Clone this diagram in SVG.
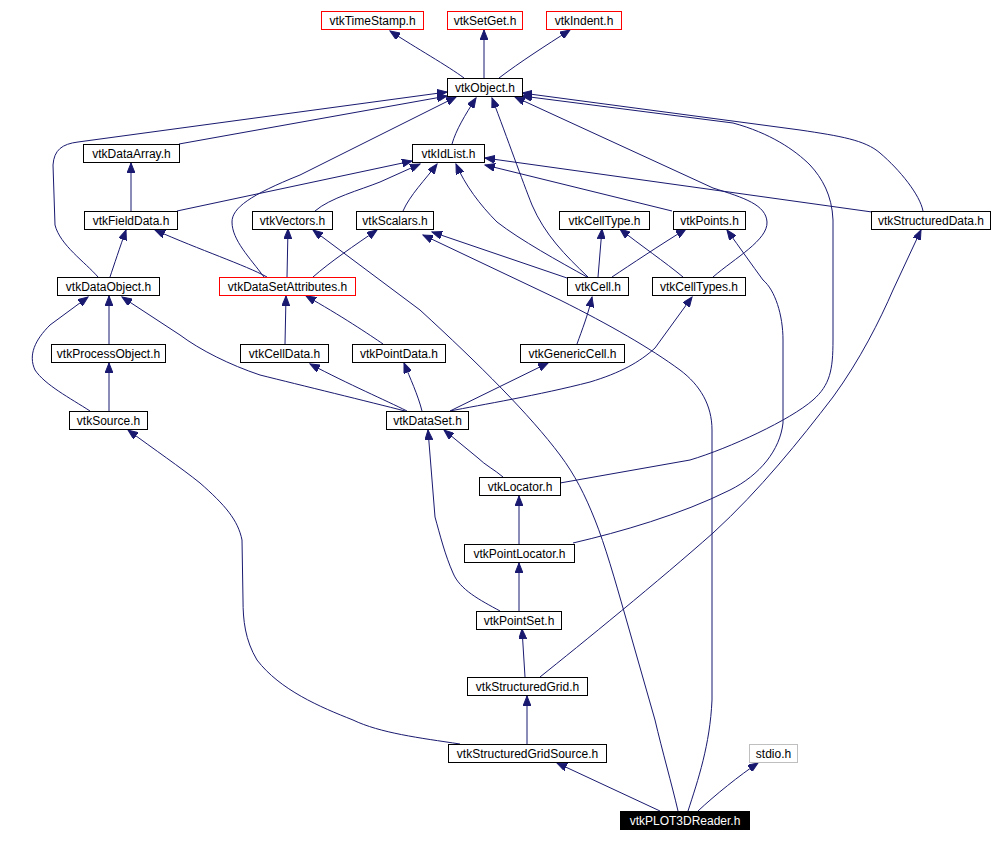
<svg xmlns="http://www.w3.org/2000/svg" width="993" height="842" viewBox="0 0 993 842">
<style>
.n rect{fill:#fff;stroke:#000;stroke-width:1}
.n.r rect{stroke:#ff0000}
.n.g rect{stroke:#bfbfbf}
.n.b rect{fill:#000}
.n text{font-family:"Liberation Sans",Arial,sans-serif;font-size:12px;text-anchor:middle;fill:#000}
.n.b text{fill:#fff}
#edges path{fill:none;stroke:#191970;stroke-width:1;marker-end:url(#ah)}
</style>
<defs>
<marker id="ah" markerUnits="userSpaceOnUse" markerWidth="11" markerHeight="8" refX="10" refY="4" orient="auto" viewBox="0 0 11 8">
<path d="M0,0 L10,4 L0,8 z" fill="#191970" stroke="#191970" stroke-width="1"/>
</marker>
</defs>
<rect width="993" height="842" fill="#fff"/>
<g id="edges">
<path d="M464,78 C448,66 416,48 390,31"/>
<path d="M484,78 L484,30"/>
<path d="M499,78 C520,62 545,46 570,30"/>
<path d="M179,144 L447,96"/>
<path d="M98,277 C85,262 60,245 55,225 L53,165 C54,150 62,144 78,142 L447,92"/>
<path d="M264,277 C250,258 232,240 232,222 C232,208 250,195 300,175 L456,97"/>
<path d="M452,144 C456,130 465,115 476,98"/>
<path d="M588,277 C565,255 545,235 532,205 C522,180 508,140 492,98"/>
<path d="M713,277 C735,258 768,240 767,222 C766,205 745,198 713,188 L515,97"/>
<path d="M923,211 C920,195 900,170 880,153 C865,140 840,136 800,130 L522,93"/>
<path d="M560,483 L577,480 L690,460 C730,448 790,420 813,400 C830,385 833,370 833,340 L833,220 C832,195 822,178 810,165 C795,150 770,133 733,123 L522,96"/>
<path d="M131,211 L131,163"/>
<path d="M177,211 L412,161"/>
<path d="M315,211 C330,198 360,190 380,182 L420,164"/>
<path d="M403,211 C410,195 425,180 437,164"/>
<path d="M587,277 C560,262 520,240 497,222 C480,205 465,185 456,164"/>
<path d="M672,211 L485,165"/>
<path d="M872,212 L485,158"/>
<path d="M110,277 C114,265 120,247 126,230"/>
<path d="M267,277 C245,265 200,250 155,230"/>
<path d="M287,277 L288,229"/>
<path d="M313,277 C330,262 355,245 377,230"/>
<path d="M598,277 L602,229"/>
<path d="M612,277 C630,265 660,245 686,229"/>
<path d="M683,277 C665,262 640,245 620,229"/>
<path d="M567,278 L432,232"/>
<path d="M688,811 C698,780 710,745 712,700 L712,430 C712,405 700,385 680,370 C650,348 610,325 560,300 L423,235"/>
<path d="M678,811 C672,785 662,750 655,720 L625,615 C615,580 605,545 595,520 C585,495 575,475 560,455 C530,415 480,365 420,310 L313,230"/>
<path d="M109,344 L109,296"/>
<path d="M90,411 C70,398 45,385 35,370 C28,355 35,340 50,325 L88,297"/>
<path d="M405,411 C370,402 300,385 260,375 C230,365 200,350 180,335 L122,297"/>
<path d="M285,344 L286,296"/>
<path d="M383,344 C370,335 340,315 306,296"/>
<path d="M577,344 C582,330 588,315 592,297"/>
<path d="M109,411 L109,363"/>
<path d="M407,411 C385,400 350,385 310,364"/>
<path d="M422,411 C418,395 410,378 404,363"/>
<path d="M450,411 L548,363"/>
<path d="M450,411 C480,405 540,395 590,382 C620,373 640,362 655,348 L692,297"/>
<path d="M503,477 C495,470 485,465 478,458 L444,430"/>
<path d="M519,544 L519,496"/>
<path d="M573,543 C620,532 680,515 730,490 C760,475 780,450 783,423 L783,340 C783,315 775,290 763,280 C752,265 740,248 727,230"/>
<path d="M519,611 L519,563"/>
<path d="M500,611 C480,600 460,590 453,573 C445,555 440,535 435,517 L428,430"/>
<path d="M525,677 L522,629"/>
<path d="M540,677 C580,645 660,580 713,533 C760,490 800,440 833,397 C860,360 880,320 893,290 L921,230"/>
<path d="M527,744 L527,696"/>
<path d="M460,744 C420,738 380,733 353,720 C320,707 280,690 257,660 C245,640 243,620 243,600 L242,540 C238,520 225,505 200,483 C180,467 155,450 128,430"/>
<path d="M660,811 L557,763"/>
<path d="M698,811 C715,795 740,775 758,763"/>
</g>
<g id="vtkTimeStamp" class="n r"><rect x="321.5" y="11.5" width="102" height="18"/><text x="372.5" y="25">vtkTimeStamp.h</text></g>
<g id="vtkSetGet" class="n r"><rect x="447.5" y="11.5" width="75" height="18"/><text x="485" y="25">vtkSetGet.h</text></g>
<g id="vtkIndent" class="n r"><rect x="546.5" y="11.5" width="75" height="18"/><text x="584" y="25">vtkIndent.h</text></g>
<g id="vtkObject" class="n"><rect x="447.5" y="78.5" width="75" height="18"/><text x="485" y="92">vtkObject.h</text></g>
<g id="vtkDataArray" class="n"><rect x="83.5" y="144.5" width="96" height="18"/><text x="131.5" y="158">vtkDataArray.h</text></g>
<g id="vtkIdList" class="n"><rect x="412.5" y="144.5" width="72" height="18"/><text x="448.5" y="158">vtkIdList.h</text></g>
<g id="vtkFieldData" class="n"><rect x="84.5" y="211.5" width="93" height="18"/><text x="131" y="225">vtkFieldData.h</text></g>
<g id="vtkVectors" class="n"><rect x="252.5" y="211.5" width="80" height="18"/><text x="292.5" y="225">vtkVectors.h</text></g>
<g id="vtkScalars" class="n"><rect x="356.5" y="211.5" width="77" height="18"/><text x="395" y="225">vtkScalars.h</text></g>
<g id="vtkCellType" class="n"><rect x="559.5" y="211.5" width="90" height="18"/><text x="604.5" y="225">vtkCellType.h</text></g>
<g id="vtkPoints" class="n"><rect x="673.5" y="211.5" width="72" height="18"/><text x="709.5" y="225">vtkPoints.h</text></g>
<g id="vtkStructuredData" class="n"><rect x="871.5" y="211.5" width="119" height="18"/><text x="931" y="225">vtkStructuredData.h</text></g>
<g id="vtkDataObject" class="n"><rect x="57.5" y="277.5" width="102" height="18"/><text x="108.5" y="291">vtkDataObject.h</text></g>
<g id="vtkDataSetAttributes" class="n r"><rect x="219.5" y="277.5" width="136" height="18"/><text x="287.5" y="291">vtkDataSetAttributes.h</text></g>
<g id="vtkCell" class="n"><rect x="567.5" y="277.5" width="61" height="18"/><text x="598" y="291">vtkCell.h</text></g>
<g id="vtkCellTypes" class="n"><rect x="652.5" y="277.5" width="93" height="18"/><text x="699" y="291">vtkCellTypes.h</text></g>
<g id="vtkProcessObject" class="n"><rect x="51.5" y="344.5" width="114" height="18"/><text x="108.5" y="358">vtkProcessObject.h</text></g>
<g id="vtkCellData" class="n"><rect x="240.5" y="344.5" width="88" height="18"/><text x="284.5" y="358">vtkCellData.h</text></g>
<g id="vtkPointData" class="n"><rect x="352.5" y="344.5" width="93" height="18"/><text x="399" y="358">vtkPointData.h</text></g>
<g id="vtkGenericCell" class="n"><rect x="520.5" y="344.5" width="104" height="18"/><text x="572.5" y="358">vtkGenericCell.h</text></g>
<g id="vtkSource" class="n"><rect x="69.5" y="411.5" width="78" height="18"/><text x="108.5" y="425">vtkSource.h</text></g>
<g id="vtkDataSet" class="n"><rect x="386.5" y="411.5" width="82" height="18"/><text x="427.5" y="425">vtkDataSet.h</text></g>
<g id="vtkLocator" class="n"><rect x="479.5" y="477.5" width="81" height="18"/><text x="520" y="491">vtkLocator.h</text></g>
<g id="vtkPointLocator" class="n"><rect x="464.5" y="544.5" width="110" height="18"/><text x="519.5" y="558">vtkPointLocator.h</text></g>
<g id="vtkPointSet" class="n"><rect x="476.5" y="611.5" width="85" height="18"/><text x="519" y="625">vtkPointSet.h</text></g>
<g id="vtkStructuredGrid" class="n"><rect x="467.5" y="677.5" width="120" height="18"/><text x="527.5" y="691">vtkStructuredGrid.h</text></g>
<g id="vtkStructuredGridSource" class="n"><rect x="448.5" y="744.5" width="158" height="18"/><text x="527.5" y="758">vtkStructuredGridSource.h</text></g>
<g id="stdio" class="n g"><rect x="749.5" y="744.5" width="48" height="18"/><text x="773.5" y="758">stdio.h</text></g>
<g id="vtkPLOT3DReader" class="n b"><rect x="620.5" y="811.5" width="129" height="18"/><text x="685" y="825">vtkPLOT3DReader.h</text></g>
</svg>
